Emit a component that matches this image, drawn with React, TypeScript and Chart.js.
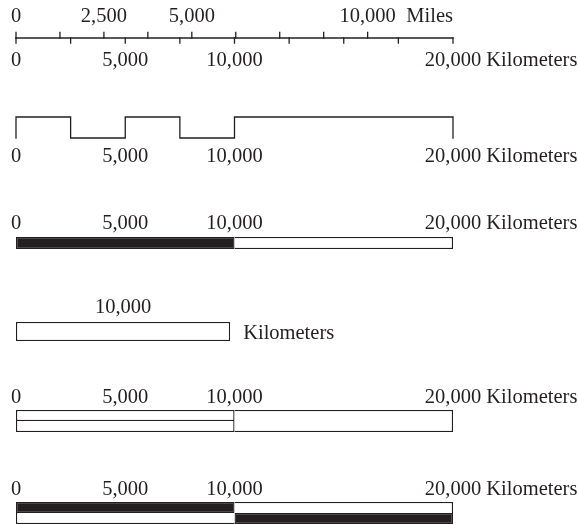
import { useEffect, useRef } from "react";
import { Chart, registerables } from "chart.js";

Chart.register(...registerables);

// ---- data ----
const KM_PER_MILE = 1.609344;
const kmTicks = [0, 2500, 5000, 7500, 10000, 12500, 15000, 17500, 20000];
const mileTicks = [0, 1250, 2500, 3750, 5000, 6250, 7500, 8750, 10000];
const mileLabels = [0, 2500, 5000, 10000];
const kmLabels = [0, 5000, 10000, 20000];
const stepBreaks = [0, 2500, 5000, 7500, 10000, 20000];
const solidSegments = [
  [0, 10000],
  [10000, 20000],
];
const singleBar = [0, 9800];
const singleLabel = 10000;
const doubleLeft = [0, 10000];
const doubleRight = [10000, 20000];
const checkerSegments = [
  [0, 10000],
  [10000, 20000],
];
const KM_MAX = 20000;

// ---- style / layout ----
const INK = "#231f20";
const LINE_W = 1.3;
const BW = 1.3;
const FONT = "20.5px 'Liberation Serif', 'Times New Roman', serif";
const L = {
  ruler: 38,
  mileTickTop: 32.5,
  kmTickBottom: 43,
  mileText: 22,
  kmText: 66,
  stepHigh: 117,
  stepLow: 138,
  stepText: 162,
  solidText: 228.5,
  solid: 243,
  solidH: 12,
  singleText: 313,
  single: 331.5,
  singleH: 19,
  singleUnitGap: 13,
  singleUnitText: 338.5,
  doubleText: 402.7,
  doubleTop: 415.5,
  doubleBottom: 426.5,
  doubleFull: 421,
  doubleHalfH: 11,
  doubleFullH: 22,
  checkerText: 495,
  checkerTop: 507.5,
  checkerBottom: 518.5,
  checkerH: 11,
};

function lineDs(points: { x: number; y: number | null }[]) {
  return {
    type: "line" as const,
    indexAxis: "x" as const,
    data: points,
    borderColor: INK,
    borderWidth: LINE_W,
    pointRadius: 0,
    tension: 0,
    fill: false,
    spanGaps: false,
    clip: false as const,
    borderCapStyle: "square" as const,
    borderJoinStyle: "miter" as const,
  };
}

function barDs(range: number[], y: number, h: number, fill: string, border: any = BW) {
  return {
    type: "bar" as const,
    indexAxis: "y" as const,
    data: [{ x: [range[0], range[1]], y }],
    barThickness: h,
    grouped: false,
    backgroundColor: fill,
    borderColor: INK,
    borderWidth: border,
    borderSkipped: false as const,
    inflateAmount: 0,
    clip: false as const,
  };
}

const fmt = (v: number) => v.toLocaleString("en-US");

const textPlugin = {
  id: "scaleText",
  afterDatasetsDraw(chart: any) {
    const { ctx } = chart;
    const xs = chart.scales.x;
    const ys = chart.scales.y;
    ctx.save();
    ctx.fillStyle = INK;
    ctx.font = FONT;
    ctx.textBaseline = "alphabetic";
    const spaceW = ctx.measureText(" ").width;

    const kmRow = (baseline: number) => {
      ctx.textAlign = "center";
      kmLabels.forEach((v) => {
        ctx.fillText(fmt(v), xs.getPixelForValue(v), ys.getPixelForValue(baseline));
      });
      const last = kmLabels[kmLabels.length - 1];
      const w = ctx.measureText(fmt(last)).width;
      ctx.textAlign = "left";
      ctx.fillText("Kilometers", xs.getPixelForValue(last) + w / 2 + spaceW, ys.getPixelForValue(baseline));
    };

    ctx.textAlign = "center";
    mileLabels.forEach((m) => {
      ctx.fillText(fmt(m), xs.getPixelForValue(m * KM_PER_MILE), ys.getPixelForValue(L.mileText));
    });
    ctx.textAlign = "right";
    ctx.fillText("Miles", xs.getPixelForValue(KM_MAX), ys.getPixelForValue(L.mileText));

    kmRow(L.kmText);
    kmRow(L.stepText);
    kmRow(L.solidText);

    ctx.textAlign = "center";
    ctx.fillText(
      fmt(singleLabel),
      xs.getPixelForValue((singleBar[0] + singleBar[1]) / 2),
      ys.getPixelForValue(L.singleText)
    );
    ctx.textAlign = "left";
    ctx.fillText(
      "Kilometers",
      xs.getPixelForValue(singleBar[1]) + L.singleUnitGap,
      ys.getPixelForValue(L.singleUnitText)
    );

    kmRow(L.doubleText);
    kmRow(L.checkerText);
    ctx.restore();
  },
};

export default function App() {
  const ref = useRef<HTMLCanvasElement>(null);

  useEffect(() => {
    if (!ref.current) return;

    const rulerLine = [
      { x: 0, y: L.ruler },
      { x: KM_MAX, y: L.ruler },
    ];
    const mileTickPts: { x: number; y: number | null }[] = [];
    mileTicks.forEach((m) => {
      const k = m * KM_PER_MILE;
      mileTickPts.push({ x: k, y: L.mileTickTop }, { x: k, y: L.ruler }, { x: k, y: null });
    });
    const kmTickPts: { x: number; y: number | null }[] = [];
    kmTicks.forEach((k) => {
      kmTickPts.push({ x: k, y: L.ruler }, { x: k, y: L.kmTickBottom }, { x: k, y: null });
    });

    const stepPts: { x: number; y: number }[] = [{ x: stepBreaks[0], y: L.stepLow }];
    for (let i = 0; i < stepBreaks.length - 1; i++) {
      const lvl = i % 2 === 0 ? L.stepHigh : L.stepLow;
      stepPts.push({ x: stepBreaks[i], y: lvl }, { x: stepBreaks[i + 1], y: lvl });
    }
    stepPts.push({ x: stepBreaks[stepBreaks.length - 1], y: L.stepLow });

    const chart = new Chart(ref.current, {
      type: "bar",
      data: {
        datasets: [
          lineDs(rulerLine),
          lineDs(mileTickPts),
          lineDs(kmTickPts),
          lineDs(stepPts),
          barDs(solidSegments[0], L.solid, L.solidH, INK),
          barDs(solidSegments[1], L.solid, L.solidH, "#ffffff", { top: BW, right: BW, bottom: BW, left: 0 }),
          barDs(singleBar, L.single, L.singleH, "#ffffff"),
          barDs(doubleLeft, L.doubleTop, L.doubleHalfH, "#ffffff"),
          barDs(doubleLeft, L.doubleBottom, L.doubleHalfH, "#ffffff", { top: 0, right: BW, bottom: BW, left: BW }),
          barDs(doubleRight, L.doubleFull, L.doubleFullH, "#ffffff", { top: BW, right: BW, bottom: BW, left: 0 }),
          barDs(checkerSegments[0], L.checkerTop, L.checkerH, INK),
          barDs(checkerSegments[1], L.checkerTop, L.checkerH, "#ffffff", { top: BW, right: BW, bottom: 0, left: 0 }),
          barDs(checkerSegments[0], L.checkerBottom, L.checkerH, "#ffffff", { top: 0, right: 0, bottom: BW, left: BW }),
          barDs(checkerSegments[1], L.checkerBottom, L.checkerH, INK),
        ] as any,
      },
      options: {
        animation: false,
        responsive: true,
        maintainAspectRatio: false,
        indexAxis: "y",
        layout: { padding: { left: 16, right: 125, top: 0, bottom: 0 } },
        plugins: { legend: { display: false }, tooltip: { enabled: false } },
        events: [],
        scales: {
          x: { type: "linear", min: 0, max: KM_MAX, display: false, offset: false },
          y: { type: "linear", min: 0, max: 524, reverse: true, display: false, offset: false },
        },
      } as any,
      plugins: [textPlugin],
    });
    return () => chart.destroy();
  }, []);

  return (
    <div style={{ position: "absolute", left: 0, top: 0, width: 578, height: 524, background: "#fff" }}>
      <canvas ref={ref} />
    </div>
  );
}
